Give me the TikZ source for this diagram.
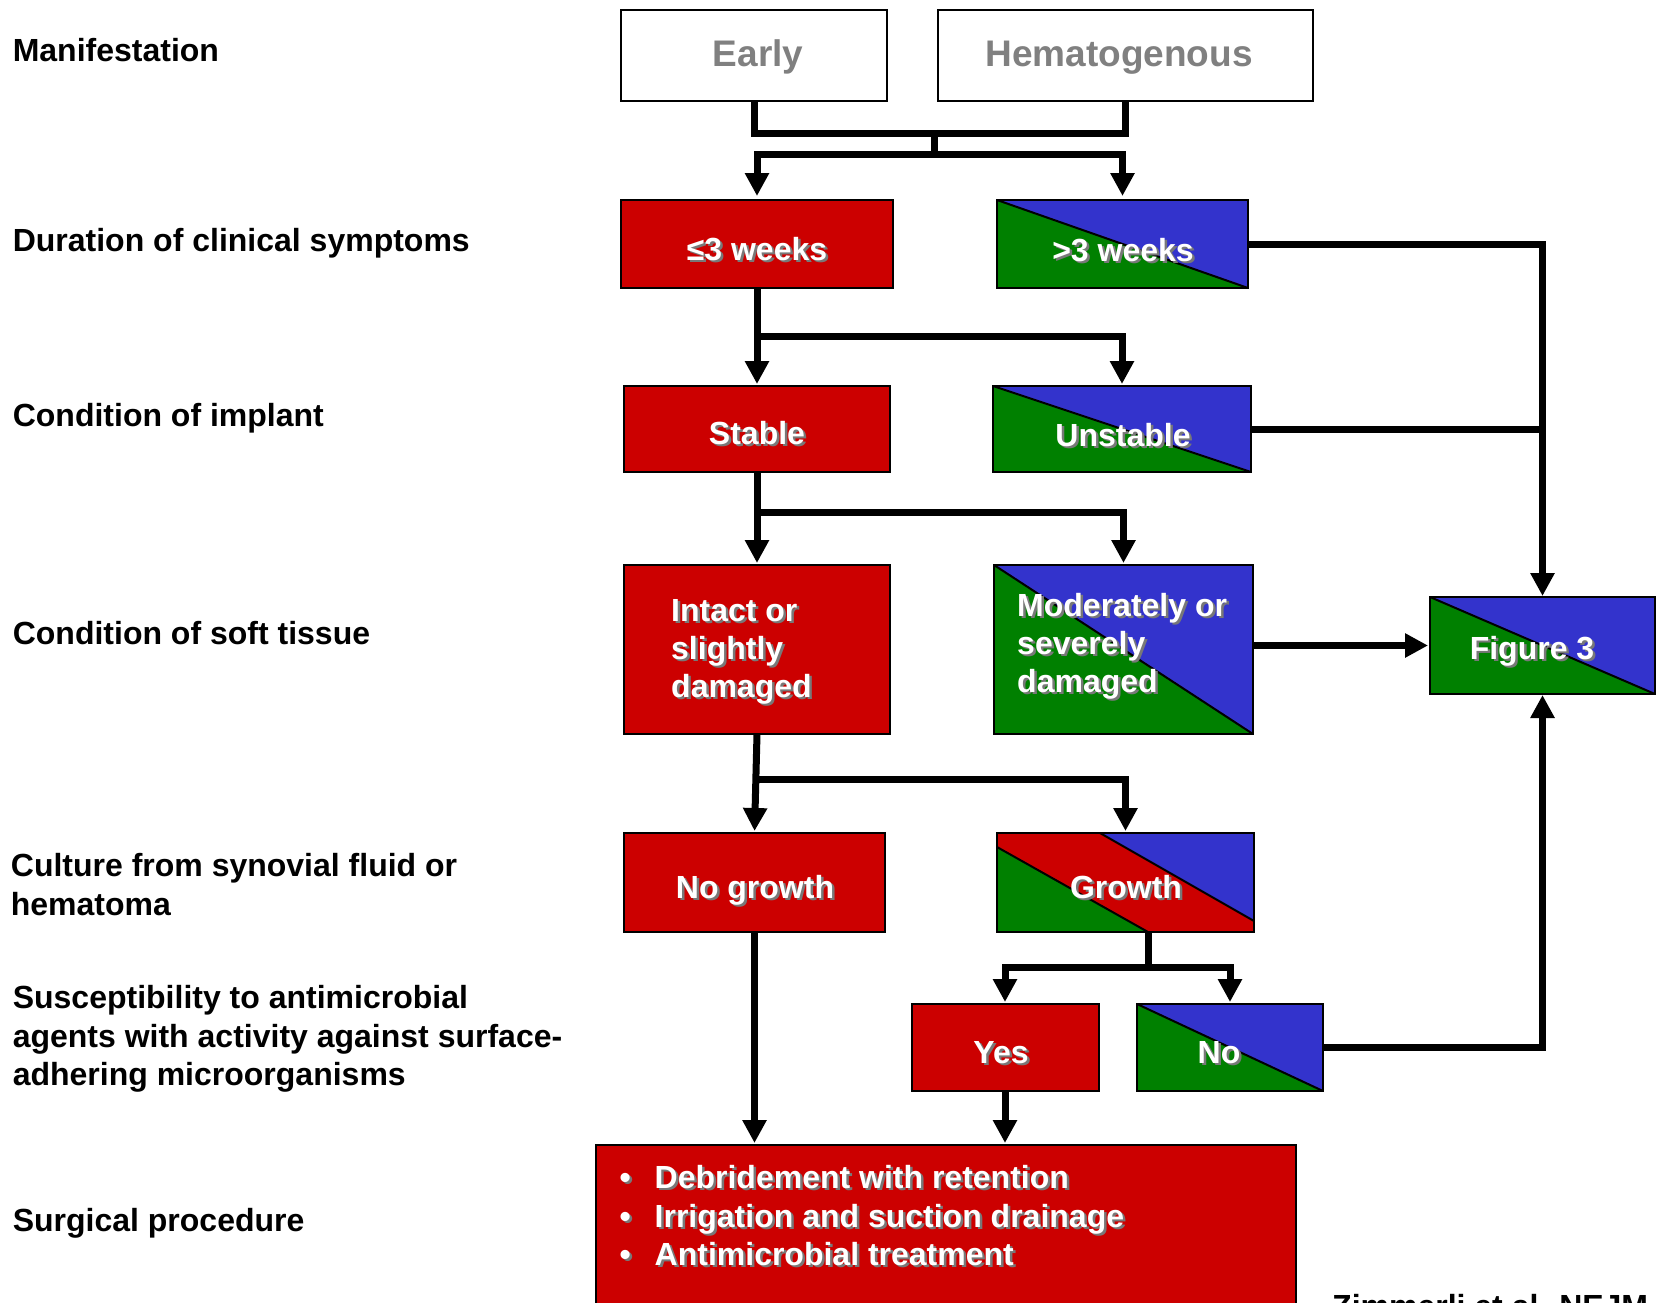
\documentclass[tikz,border=0pt]{standalone}
\usepackage{fontspec}
\setmainfont{Liberation Sans}
\usetikzlibrary{arrows.meta,calc}

\definecolor{boxred}{RGB}{204,0,0}
\definecolor{boxblue}{RGB}{51,51,204}
\definecolor{boxgreen}{RGB}{0,128,0}
\definecolor{shade}{RGB}{120,120,120}
\definecolor{headgray}{RGB}{128,128,128}

% white text with a grey drop shadow
\newcommand\shd[1]{\makebox[0pt][l]{\hspace{2.5pt}\raisebox{-2.5pt}{\textcolor{shade}{#1}}}#1}

\begin{document}
\begin{tikzpicture}[x=1pt,y=-1pt,
  shell/.style={draw=black, line width=2pt, inner sep=0pt, outer sep=0pt},
  sz/.style 2 args={minimum width=#1, minimum height=#2},
  plainbox/.style={shell, fill=white},
  redbox/.style={shell, fill=boxred},
  splitbox/.style={shell, fill=boxgreen, path picture={
      \fill[boxblue] (path picture bounding box.north west) -- (path picture bounding box.north east)
        -- (path picture bounding box.south east) -- cycle;
      \draw[line width=2pt] (path picture bounding box.north west) -- (path picture bounding box.south east);}},
  tribox/.style={shell, fill=boxred, path picture={
      \fill[boxgreen] ($(path picture bounding box.north west)+(0,14)$) -- (path picture bounding box.south west)
        -- ($(path picture bounding box.south west)+(151,0)$) -- cycle;
      \fill[boxblue] ($(path picture bounding box.north west)+(103,0)$) -- (path picture bounding box.north east)
        -- ($(path picture bounding box.north east)+(0,88)$) -- cycle;
      \draw[line width=2pt] ($(path picture bounding box.north west)+(0,14)$) -- ($(path picture bounding box.south west)+(151,0)$);
      \draw[line width=2pt] ($(path picture bounding box.north west)+(103,0)$) -- ($(path picture bounding box.north east)+(0,88)$);}},
  side/.style={font=\fontsize{32}{38}\selectfont\bfseries, anchor=base west, inner sep=0pt},
  head/.style={font=\fontsize{37}{43}\selectfont\bfseries, text=headgray, anchor=base, inner sep=0pt},
  inbox/.style={font=\fontsize{32}{38}\selectfont\bfseries, text=white, anchor=base, inner sep=0pt},
  inboxw/.style={inbox, anchor=base west},
  conn/.style={line width=7pt, draw=black},
  arr/.style={conn, -{Triangle[width=23pt,length=23pt]}, shorten >=2pt}
]
\useasboundingbox (0,0) rectangle (1658,1302);
\fill[white] (0,0) rectangle (1658,1302);

% row labels
\node[side] (l-manif) at (12.6,61.7) {Manifestation};
\node[side] (l-dur)   at (12.6,251.5) {Duration of clinical symptoms};
\node[side] (l-impl)  at (12.6,426) {Condition of implant};
\node[side] (l-soft)  at (12.6,644) {Condition of soft tissue};
\node[side] (l-cult1) at (10.7,876) {Culture from synovial fluid or};
\node[side] (l-cult2) at (10.7,915) {hematoma};
\node[side] (l-sus1)  at (12.6,1008.5) {Susceptibility to antimicrobial};
\node[side] (l-sus2)  at (12.6,1047) {agents with activity against surface-};
\node[side] (l-sus3)  at (12.6,1085.5) {adhering microorganisms};
\node[side] (l-surg)  at (12.6,1231.5) {Surgical procedure};

% boxes
\node[plainbox, sz={266pt}{91pt}] (early) at (754,55.5) {};
\node[plainbox, sz={375pt}{91pt}] (hema) at (1125.5,55.5) {};
\node[redbox, sz={272pt}{88pt}] (wk1) at (757,244) {};
\node[splitbox, sz={251pt}{88pt}] (wk2) at (1122.5,244) {};
\node[redbox, sz={266pt}{86pt}] (stable) at (757,429) {};
\node[splitbox, sz={258pt}{86pt}] (unstable) at (1122,429) {};
\node[redbox, sz={266pt}{169pt}] (intact) at (757,649.5) {};
\node[splitbox, sz={259pt}{169pt}] (moder) at (1123.5,649.5) {};
\node[splitbox, sz={225pt}{97pt}] (fig3) at (1542.5,645.5) {};
\node[redbox, sz={261pt}{99pt}] (nogrowth) at (754.5,882.5) {};
\node[tribox, sz={257pt}{99pt}] (growth) at (1125.5,882.5) {};
\node[redbox, sz={187pt}{87pt}] (yes) at (1005,1047.5) {};
\node[splitbox, sz={186pt}{87pt}] (no) at (1230,1047.5) {};
\node[redbox, sz={700pt}{195pt}] (surgery) at (946,1242.5) {};

% box texts
\node[head] (t-early) at (758,66.7) {Early};
\node[head] (t-hema) at (1119,66.7) {Hematogenous};
\node[inbox] (t-wk1) at (757,260) {\shd{≤3 weeks}};
\node[inbox] (t-wk2) at (1123,261) {\shd{>3 weeks}};
\node[inbox] (t-stable) at (757,444) {\shd{Stable}};
\node[inbox] (t-unstable) at (1123,446) {\shd{Unstable}};
\node[inboxw] (t-int1) at (671,621) {\shd{Intact or}};
\node[inboxw] (t-int2) at (671,659) {\shd{slightly}};
\node[inboxw] (t-int3) at (671,697) {\shd{damaged}};
\node[inboxw] (t-mod1) at (1017,616) {\shd{Moderately or}};
\node[inboxw] (t-mod2) at (1017,654) {\shd{severely}};
\node[inboxw] (t-mod3) at (1017,692) {\shd{damaged}};
\node[inbox] (t-fig3) at (1532,659) {\shd{Figure 3}};
\node[inbox] (t-nogrowth) at (755,898) {\shd{No growth}};
\node[inbox] (t-growth) at (1126,898) {\shd{Growth}};
\node[inbox] (t-yes) at (1001,1063) {\shd{Yes}};
\node[inbox] (t-no) at (1219,1063) {\shd{No}};
\node[inboxw] (t-b1) at (619.5,1188) {\makebox[35pt][l]{\shd{\textbullet}}\shd{Debridement with retention}};
\node[inboxw] (t-b2) at (619.5,1227) {\makebox[35pt][l]{\shd{\textbullet}}\shd{Irrigation and suction drainage}};
\node[inboxw] (t-b3) at (619.5,1265) {\makebox[35pt][l]{\shd{\textbullet}}\shd{Antimicrobial treatment}};

% source line at the foot, running off the page
\node[side] (cite) at (1332,1317) {Zimmerli et al. NEJM};

% connectors
\coordinate (m1) at (934,133);
\coordinate (m2) at (934,154);
\draw[conn] (early.south) |- (m1);
\draw[conn] (hema.south) |- (m1);
\draw[conn] (m1) -- (m2);
\draw[arr, shorten >=4pt] (m2) -| (wk1.north);
\draw[arr, shorten >=4pt] (m2) -| (wk2.north);

\draw[arr, shorten >=1pt] (wk2.east) -| (fig3.north);
\draw[conn] (unstable.east) -- (unstable.east -| fig3.north);

\coordinate (b1) at (757,336);
\draw[arr] (wk1.south) -- (stable.north);
\draw[arr] (b1) -| (unstable.north);

\coordinate (b2) at (757,512);
\draw[arr] (stable.south) -- (intact.north);
\draw[arr] (b2) -| (moder.north);

\draw[arr] (moder.east |- fig3.west) -- (fig3.west);

\coordinate (b3) at (757,779);
\draw[arr] (intact.south) -- (nogrowth.north);
\draw[arr] (b3) -| (growth.north);

\coordinate (g1) at (1148,967);
\draw[conn] (growth.south -| g1) -- (g1);
\draw[arr] (g1) -| (yes.north);
\draw[arr] (g1) -| (no.north);

\draw[arr, shorten >=1pt] (no.east) -| (fig3.south);

\draw[arr] (nogrowth.south) -- (nogrowth.south |- surgery.north);
\draw[arr] (yes.south) -- (yes.south |- surgery.north);
\end{tikzpicture}
\end{document}
